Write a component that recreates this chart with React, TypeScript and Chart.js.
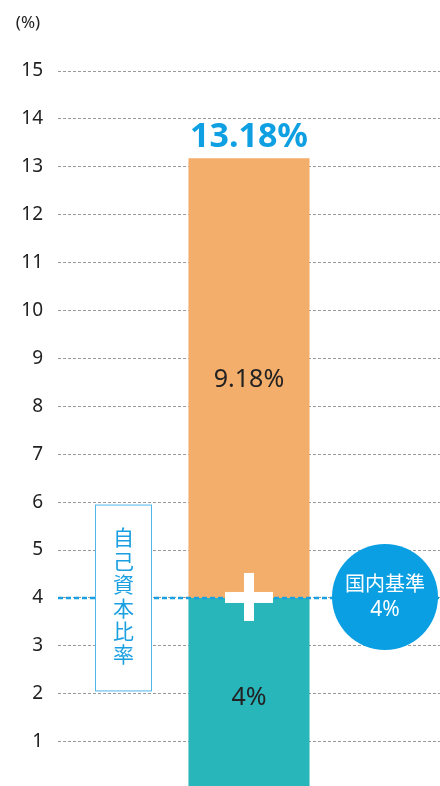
import React, { useEffect, useRef } from 'react';
import { Chart, registerables } from 'chart.js';
Chart.register(...registerables);

const categories = ['自己資本比率'];
const requirementValues = [4];
const surplusValues = [9.18];
const totalValues = [13.18];
const yTickValues = [1, 2, 3, 4, 5, 6, 7, 8, 9, 10, 11, 12, 13, 14, 15];
const unitLabel = '(%)';
const ratioLabel = '自己資本比率';
const standardLabel = '国内基準';
const standardValue = 4;
const fmt = (v: number) => `${v}%`;

export default function App() {
  const ref = useRef<HTMLCanvasElement>(null);
  useEffect(() => {
    document.body.style.margin = '0';
    const canvas = ref.current!;
    const annot = {
      id: 'annot',
      afterDatasetsDraw(chart: any) {
        const ctx = chart.ctx;
        const y = chart.scales.y;
        const area = chart.chartArea;
        const bar = chart.getDatasetMeta(1).data[0];
        const bx = bar.x;
        const topY = y.getPixelForValue(totalValues[0]);
        const stdY = y.getPixelForValue(standardValue);
        ctx.save();
        // standard dashed line
        ctx.strokeStyle = '#1a9fe0';
        ctx.lineWidth = 2.5;
        ctx.setLineDash([5, 3]);
        ctx.beginPath();
        ctx.moveTo(area.left, stdY);
        ctx.lineTo(area.right, stdY);
        ctx.stroke();
        ctx.setLineDash([]);
        // plus sign
        ctx.fillStyle = '#ffffff';
        ctx.fillRect(bx - 24, stdY - 6, 48, 11);
        ctx.fillRect(bx - 5, stdY - 25, 10, 48);
        // box with vertical label
        const boxL = area.left + 37.5;
        const boxR = area.left + 93.5;
        const boxT = y.getPixelForValue(5.95) + 0.5;
        const boxB = y.getPixelForValue(2.07) + 0.5;
        ctx.fillStyle = '#ffffff';
        ctx.fillRect(boxL, boxT, boxR - boxL, boxB - boxT);
        ctx.strokeStyle = '#4db6ea';
        ctx.lineWidth = 1;
        ctx.strokeRect(boxL, boxT, boxR - boxL, boxB - boxT);
        ctx.fillStyle = '#1a9fe0';
        ctx.font = '21px "Noto Sans CJK JP"';
        ctx.textAlign = 'center';
        ctx.textBaseline = 'middle';
        const chars = Array.from(ratioLabel);
        const step = 23.4;
        const midY = (boxT + boxB) / 2 - 2;
        chars.forEach((c, i) => {
          ctx.fillText(c, (boxL + boxR) / 2, midY + (i - (chars.length - 1) / 2) * step);
        });
        // circle
        const cx = area.right - 55;
        const cy = stdY - 1;
        ctx.fillStyle = '#0a9fe3';
        ctx.beginPath();
        ctx.arc(cx, cy, 53, 0, Math.PI * 2);
        ctx.fill();
        ctx.fillStyle = '#ffffff';
        ctx.font = '20px "Noto Sans CJK JP"';
        ctx.fillText(standardLabel, cx, cy - 14);
        ctx.font = '21px "Noto Sans"';
        ctx.fillText(fmt(standardValue), cx, cy + 13);
        // total label
        ctx.fillStyle = '#0fa0e3';
        ctx.font = 'bold 34px "Noto Sans"';
        ctx.fillText(fmt(totalValues[0]), bx, topY - 21);
        // segment labels
        ctx.fillStyle = '#222222';
        ctx.font = '25px "Noto Sans"';
        ctx.fillText(fmt(surplusValues[0]), bx, (topY + stdY) / 2 + 2);
        ctx.fillText(fmt(requirementValues[0]), bx, y.getPixelForValue(requirementValues[0] / 2) + 4);
        // unit
        ctx.font = '17px "Noto Sans"';
        ctx.fillText(unitLabel, 28, 23);
        ctx.restore();
      },
    };
    const chart = new Chart(canvas, {
      type: 'bar',
      data: {
        labels: categories,
        datasets: [
          { label: standardLabel, data: requirementValues, backgroundColor: '#29b6bb' },
          { label: '上乗せ', data: surplusValues, backgroundColor: '#f4ae6b' },
        ],
      },
      options: {
        responsive: false,
        animation: false,
        layout: { padding: { top: 71, bottom: 1, left: 0, right: 0 } },
        datasets: { bar: { categoryPercentage: 1, barPercentage: 0.317 } },
        plugins: { legend: { display: false }, tooltip: { enabled: false } },
        scales: {
          x: { display: false, stacked: true },
          y: {
            stacked: true,
            min: 0,
            max: 15,
            afterBuildTicks: (s: any) => {
              s.ticks = yTickValues.map((v) => ({ value: v }));
            },
            afterFit: (s: any) => {
              s.width = 58;
            },
            ticks: { padding: 15, color: '#222', font: { family: 'Noto Sans', size: 19 } },
            grid: { color: '#9a9a9a', drawTicks: false, lineWidth: 1 },
            border: { display: false, dash: [3, 2] },
          },
        },
      },
      plugins: [annot],
    } as any);
    return () => chart.destroy();
  }, []);
  return (
    <div style={{ width: 440, height: 786, overflow: 'hidden' }}>
      <canvas ref={ref} width={440} height={816} />
    </div>
  );
}
